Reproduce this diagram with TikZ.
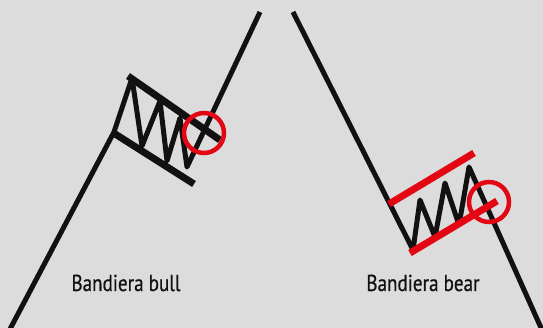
\documentclass[tikz,border=0pt]{standalone}
\usepackage{fontspec}
\newfontfamily\labelfont[FakeStretch=0.83,FakeBold=0.6]{PT Sans}
\definecolor{paper}{HTML}{DCDCDC}
\definecolor{signal}{HTML}{E30613}
\definecolor{ink}{HTML}{111111}

\begin{document}
\begin{tikzpicture}[
  x=1pt, y=-1pt,
  trend/.style={draw=ink, line width=5pt, line join=round},
  edge/.style={draw=ink, line width=7pt},
  rededge/.style={draw=signal, line width=7pt},
  breakout/.style={draw=signal, circle, line width=4.5pt, minimum size=40pt, inner sep=0pt},
  caption/.style={font=\labelfont\fontsize{23}{27}\selectfont, text=ink, anchor=base, inner sep=0pt}
]

\fill[paper] (0,0) rectangle (543,328);
\clip (0,0) rectangle (543,328);

% bull flag
\coordinate (b0) at (9,331);
\coordinate (b1) at (114,132);
\coordinate (b2) at (132,78);
\coordinate (b3) at (142,146);
\coordinate (b4) at (160,101);
\coordinate (b5) at (167,161);
\coordinate (b6) at (180,118);
\coordinate (b7) at (187,167);
\coordinate (b8) at (260,12);

\draw[edge] (128,76) -- (220,140);
\draw[edge] (112,132) -- (194,184);
\draw[trend] (b0) -- (b1) -- (b2) -- (b3) -- (b4) -- (b5) -- (b6) -- (b7) -- (b8);
\node[breakout] (bullx) at (204,133) {};

% bear flag
\coordinate (r0) at (293,12);
\coordinate (r1) at (413,250);
\coordinate (r2) at (420,200);
\coordinate (r3) at (435,237);
\coordinate (r4) at (445,183);
\coordinate (r5) at (459,225);
\coordinate (r6) at (469,167);
\coordinate (r7) at (542,330);

\draw[trend] (r0) -- (r1) -- (r2) -- (r3) -- (r4) -- (r5) -- (r6) -- (r7);
\draw[rededge] (389,204) -- (474,153);
\draw[rededge] (410,253) -- (497,201);
\node[breakout] (bearx) at (489,202) {};

\node[caption] (bull) at (126,291) {Bandiera bull};
\node[caption] (bear) at (423,291) {Bandiera bear};
\end{tikzpicture}
\end{document}
